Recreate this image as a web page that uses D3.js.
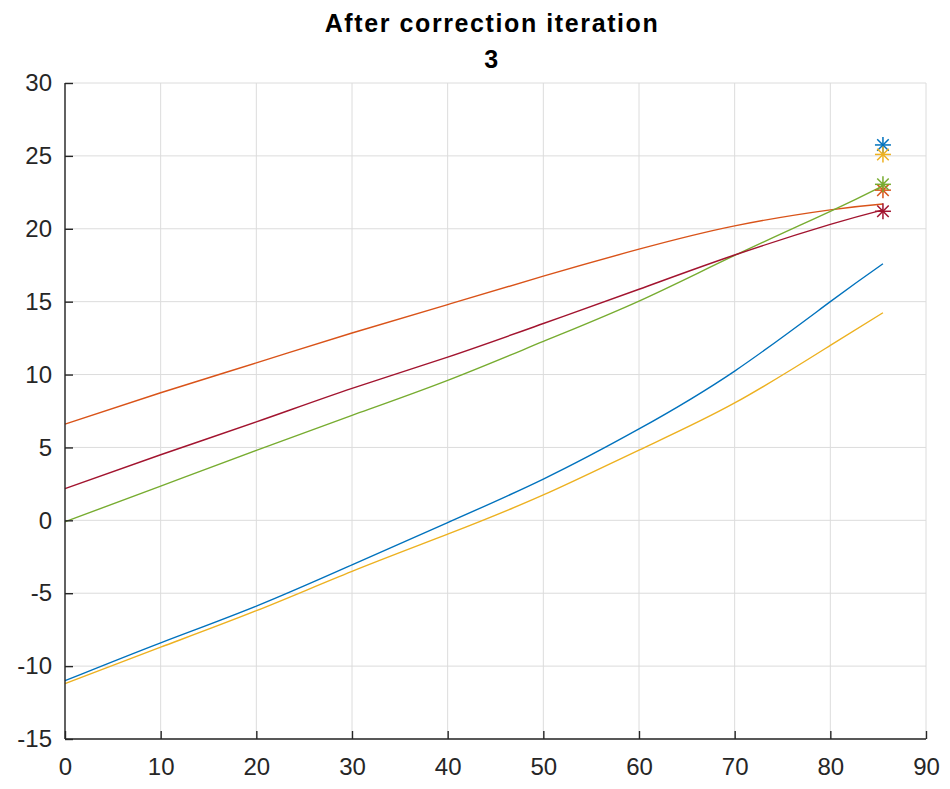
<!DOCTYPE html>
<html>
<head>
<meta charset="utf-8">
<script src="https://cdn.jsdelivr.net/npm/d3@7"></script>
<style>
  html, body { margin: 0; padding: 0; background: #fff; }
  svg { display: block; font-family: "Liberation Sans", Arial, Helvetica, sans-serif; }
</style>
</head>
<body>
<svg id="chart" width="950" height="789"></svg>
<script>
// ---- data ----
const titleLines = ["After correction iteration", "3"];
const xTicks = [0, 10, 20, 30, 40, 50, 60, 70, 80, 90];
const yTicks = [-15, -10, -5, 0, 5, 10, 15, 20, 25, 30];
const xs = [0, 10, 20, 30, 40, 50, 60, 70, 80, 85.5];

const blueY   = [-11.0, -8.4, -5.88, -3.05, -0.15, 2.83, 6.27, 10.24, 15.0, 17.6];
const orangeY = [6.6, 8.75, 10.8, 12.85, 14.8, 16.75, 18.6, 20.2, 21.3, 21.7];
const yellowY = [-11.2, -8.7, -6.2, -3.5, -0.95, 1.74, 4.82, 8.05, 12.0, 14.24];
const greenY  = [-0.1, 2.35, 4.8, 7.2, 9.6, 12.27, 15.04, 18.17, 21.2, 22.95];
const redY    = [2.17, 4.5, 6.75, 9.05, 11.2, 13.5, 15.85, 18.2, 20.3, 21.3];

const starX = [85.5, 85.5, 85.5, 85.5, 85.5];
const starY = [25.75, 22.65, 25.1, 23.05, 21.2];

const seriesNames = ["blue", "orange", "yellow", "green", "red"];
const seriesColors = ["#0072BD", "#D95319", "#EDB120", "#77AC30", "#A2142F"];
const seriesY = [blueY, orangeY, yellowY, greenY, redY];

// ---- layout ----
const svg = d3.select("#chart");
const L = 65, R = 926, T = 83, B = 739;
const x = d3.scaleLinear().domain([0, 90]).range([L, R]);
const y = d3.scaleLinear().domain([-15, 30]).range([B, T]);

// grid
const grid = svg.append("g");
grid.selectAll("line.gx").data(xTicks).enter().append("line")
  .attr("x1", d => x(d)).attr("x2", d => x(d)).attr("y1", T).attr("y2", B)
  .attr("stroke", "#dcdcdc").attr("stroke-width", 1);
grid.selectAll("line.gy").data(yTicks).enter().append("line")
  .attr("y1", d => y(d)).attr("y2", d => y(d)).attr("x1", L).attr("x2", R)
  .attr("stroke", "#dcdcdc").attr("stroke-width", 1);

// lines
const line = d3.line().x(d => x(d[0])).y(d => y(d[1])).curve(d3.curveNatural);
seriesY.forEach((ys, i) => {
  svg.append("path")
    .datum(xs.map((xv, j) => [xv, ys[j]]))
    .attr("fill", "none")
    .attr("stroke", seriesColors[i])
    .attr("stroke-width", 1.4)
    .attr("d", line);
});

// star markers
const s = 8;
starX.forEach((sx, i) => {
  const g = svg.append("g")
    .attr("transform", `translate(${x(sx)},${y(starY[i])})`)
    .attr("stroke", seriesColors[i]).attr("stroke-width", 1.5);
  g.append("line").attr("x1", -s).attr("x2", s).attr("y1", 0).attr("y2", 0);
  g.append("line").attr("x1", 0).attr("x2", 0).attr("y1", -s).attr("y2", s);
  const d = s * 0.72;
  g.append("line").attr("x1", -d).attr("x2", d).attr("y1", -d).attr("y2", d);
  g.append("line").attr("x1", -d).attr("x2", d).attr("y1", d).attr("y2", -d);
});

// axes
const fmt = d => String(d);
const xAxis = d3.axisBottom(x).tickValues(xTicks).tickSize(-8).tickPadding(12).tickFormat(fmt);
const yAxis = d3.axisLeft(y).tickValues(yTicks).tickSize(-8).tickPadding(13).tickFormat(fmt);

const gx = svg.append("g").attr("transform", `translate(0,${B})`).call(xAxis);
const gy = svg.append("g").attr("transform", `translate(${L},0)`).call(yAxis);
[gx, gy].forEach(g => {
  g.select(".domain").attr("stroke", "#262626").attr("stroke-width", 1.4);
  g.selectAll(".tick line").attr("stroke", "#262626").attr("stroke-width", 1.4);
  g.selectAll(".tick text").attr("fill", "#262626")
    .style("font-size", "24px").style("font-family", "'Liberation Sans', Arial, sans-serif");
});
gx.select(".domain").attr("d", `M${L},0H${R}`);
gy.select(".domain").attr("d", `M0,${B}V${T}`);
gx.selectAll(".tick text").attr("dy", "0.98em");

// title
svg.append("g").selectAll("text").data(titleLines).enter().append("text")
  .attr("x", 492).attr("y", (d, i) => 32 + i * 36)
  .attr("text-anchor", "middle")
  .attr("font-weight", "bold")
  .attr("font-size", "25px")
  .attr("letter-spacing", "1.6px")
  .attr("fill", "#000")
  .text(d => d);
</script>
</body>
</html>
